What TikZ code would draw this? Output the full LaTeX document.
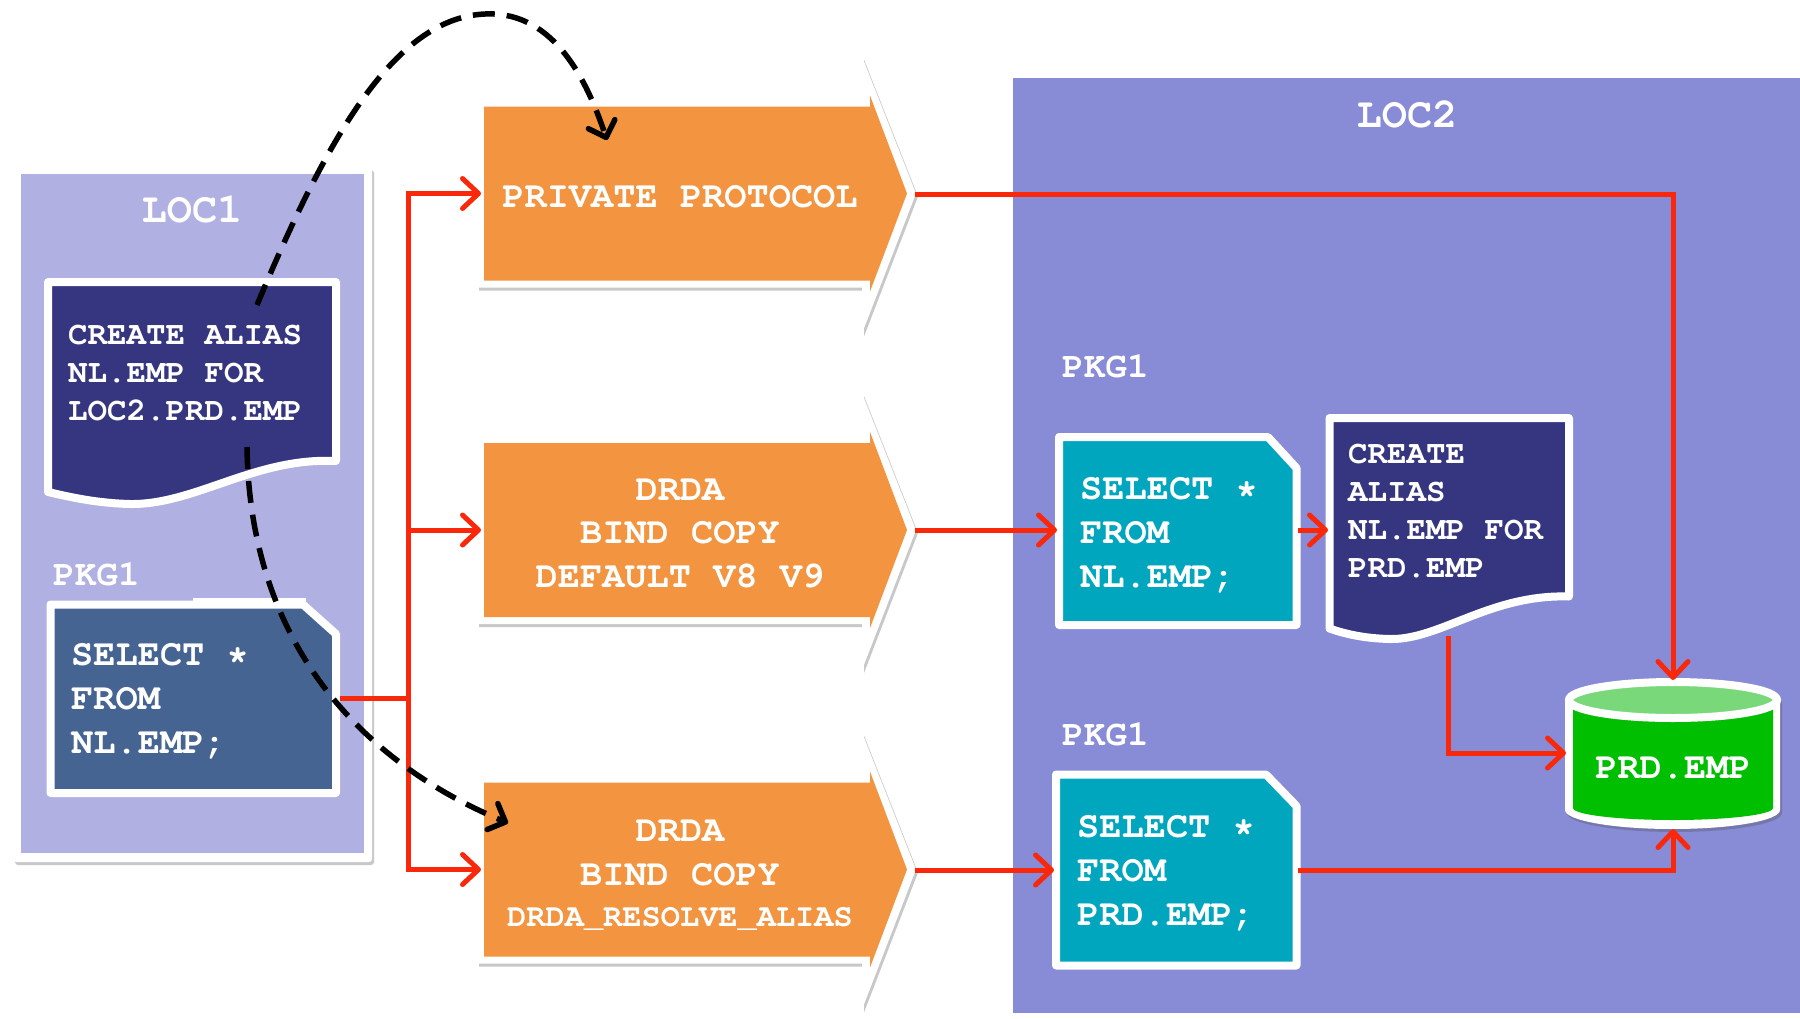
\documentclass[tikz,border=0pt]{standalone}
\usepackage[T1]{fontenc}
\usepackage{courier}
\usetikzlibrary{arrows.meta,shadows,calc}
\definecolor{lavA}{RGB}{176,176,226}
\definecolor{lavB}{RGB}{136,139,214}
\definecolor{navy}{RGB}{54,54,128}
\definecolor{slate}{RGB}{70,100,146}
\definecolor{cyanbox}{RGB}{0,165,190}
\definecolor{orng}{RGB}{242,148,64}
\definecolor{grn}{RGB}{0,190,0}
\definecolor{lgrn}{RGB}{120,216,122}
\definecolor{redl}{RGB}{250,40,10}
\newcommand\myfs[2]{\fontsize{#1}{#2}\selectfont}
\begin{document}
\begin{tikzpicture}[x=1pt,y=-1pt,
  shd/.style={drop shadow={opacity=0.3,shadow xshift=2pt,shadow yshift=-3pt,fill=black!70}},
  frame/.style={draw=white,line width=8pt,line join=round},
  wtxt/.style={text=white,inner sep=0pt},
  titlelbl/.style={wtxt,font=\ttfamily\bfseries\myfs{42}{50}},
  pkglbl/.style={wtxt,font=\ttfamily\bfseries\myfs{36}{44}},
  codeA/.style={wtxt,align=left,font=\ttfamily\bfseries\myfs{37}{44}},
  codeB/.style={wtxt,align=left,font=\ttfamily\bfseries\myfs{32.5}{38}},
  arrtxt/.style={wtxt,align=center,font=\ttfamily\bfseries\myfs{37}{43.5}},
  redarr/.style={draw=redl,line width=5pt,-{Straight Barb[length=16pt,width=30pt,round]}},
  dasharr/.style={draw=black,line width=5.5pt,dash pattern=on 22pt off 12pt,-{Straight Barb[length=14pt,width=28pt,round]}}]
\useasboundingbox (0,0) rectangle (1800,1018);
\fill[white] (0,0) rectangle (1800,1018);

% ---------- LOC1 frame ----------
\fill[white,shd,rounded corners=3pt] (13,167) rectangle (372,862);
\fill[lavA] (21,174) rectangle (364,853);
\node[titlelbl,anchor=base] (loc1) at (192,222) {LOC1};

% ---------- LOC2 frame ----------
\fill[white,shd,rounded corners=3pt] (1005,70) rectangle (1812,1030);
\fill[white] (1000,1013) rectangle (1800,1018);
\fill[lavB] (1013,78) rectangle (1800,1013);
\node[titlelbl,anchor=base] (loc2) at (1407,127) {LOC2};

% ---------- block arrows ----------
\foreach \cy in {193.5,530,869.5}{
  \fill[white,shd] (477,\cy-94) -- (862,\cy-94) -- (862,\cy-137) -- (916,\cy) -- (862,\cy+140) -- (862,\cy+94) -- (477,\cy+94) -- cycle;
  \fill[orng] (484,\cy-87) -- (870,\cy-87) -- (870,\cy-98) -- (907,\cy) -- (870,\cy+98) -- (870,\cy+87) -- (484,\cy+87) -- cycle;
}
\node[arrtxt,anchor=base] (t1) at (680,207) {PRIVATE PROTOCOL};
\node[arrtxt,anchor=base] (t2) at (680,587) {DRDA\\BIND COPY\\DEFAULT V8 V9};
\node[arrtxt,anchor=base] (t3) at (680,885) {DRDA\\BIND COPY};
\node[wtxt,anchor=base,font=\ttfamily\bfseries\myfs{32}{38}] (t3b) at (680,926) {DRDA\_RESOLVE\_ALIAS};

% ---------- LOC1 documents ----------
\filldraw[fill=navy,frame,shd] (48,282) -- (336,282) -- (336,461)
  .. controls (255,457) and (195,505) .. (130,504)
  .. controls (95,503) and (70,497) .. (48,492) -- cycle;
\node[codeB,anchor=base west] (cr1) at (68,420) {CREATE ALIAS\\NL.EMP FOR\\LOC2.PRD.EMP};

\node[pkglbl,anchor=base west] (pk1) at (53,585) {PKG1};
\fill[white] (193,598) rectangle (306,606);
\filldraw[fill=slate,frame,shd] (50.5,604.5) -- (303,604.5) -- (336,634) -- (336,793) -- (50.5,793) -- cycle;
\node[codeA,anchor=base west] (sel1) at (71,753) {SELECT *\\FROM\\NL.EMP;};

% ---------- LOC2 documents ----------
\node[pkglbl,anchor=base west] (pk2) at (1062,377) {PKG1};
\filldraw[fill=cyanbox,frame,shd] (1059,437) -- (1268,437) -- (1296.5,468) -- (1296.5,625) -- (1059,625) -- cycle;
\node[codeA,anchor=base west] (sel2) at (1080,587) {SELECT *\\FROM\\NL.EMP;};

\filldraw[fill=navy,frame,shd] (1329.5,418) -- (1569,418) -- (1569,596.5)
  .. controls (1490,594) and (1440,640) .. (1390,639)
  .. controls (1365,638.5) and (1345,634) .. (1329.5,628.5) -- cycle;
\node[codeB,anchor=base west] (cr2) at (1348,577) {CREATE\\ALIAS\\NL.EMP FOR\\PRD.EMP};

\node[pkglbl,anchor=base west] (pk3) at (1062,745) {PKG1};
\filldraw[fill=cyanbox,frame,shd] (1056,774.5) -- (1266,774.5) -- (1296.5,806) -- (1296.5,965.5) -- (1056,965.5) -- cycle;
\node[codeA,anchor=base west] (sel3) at (1077,925) {SELECT *\\FROM\\PRD.EMP;};

% ---------- cylinder ----------
\fill[white,shd] (1565,700) -- (1565,810) arc[start angle=180,end angle=360,x radius=107.5pt,y radius=19pt]
  -- (1780,700) arc[start angle=0,end angle=180,x radius=107.5pt,y radius=21pt] -- cycle;
\fill[grn] (1573,700) -- (1573,808) arc[start angle=180,end angle=360,x radius=100pt,y radius=12pt] -- (1773,700) -- cycle;
\filldraw[fill=lgrn,draw=white,line width=8pt] (1673,700) ellipse[x radius=104pt,y radius=18pt];
\node[wtxt,anchor=base,font=\ttfamily\bfseries\myfs{37}{44}] (prd) at (1673,778) {PRD.EMP};

% ---------- connector end points ----------
\coordinate (s1o) at (340,698);
\coordinate (a1w) at (481,193.5);
\coordinate (a2w) at (481,530);
\coordinate (a3w) at (481,869.5);
\coordinate (a1e) at (915,194);
\coordinate (a2e) at (915,530);
\coordinate (a3e) at (915,870);
\coordinate (b1w) at (1057,530);
\coordinate (b1e) at (1298,530);
\coordinate (cr2w) at (1328,530);
\coordinate (cr2s) at (1448,636);
\coordinate (b2w) at (1054,870);
\coordinate (b2e) at (1298,870);
\coordinate (cyltop) at (1673,680);
\coordinate (cylw) at (1566,753);
\coordinate (cylbot) at (1673,829);
\coordinate (d1s) at (257,305);
\coordinate (d1e) at (607,140);
\coordinate (d2s) at (247,447);
\coordinate (d2e) at (508,823);

% ---------- red connectors ----------
\draw[redarr] (s1o) -- ++(68,0) |- (a1w);
\draw[redarr] (s1o) -- ++(68,0) |- (a2w);
\draw[redarr] (s1o) -- ++(68,0) |- (a3w);
\draw[redarr] (a1e) -| (cyltop);
\draw[redarr] (a2e) -- (b1w);
\draw[redarr] (b1e) -- (cr2w);
\draw[redarr] (cr2s) |- (cylw);
\draw[redarr] (a3e) -- (b2w);
\draw[redarr] (b2e) -| (cylbot);

% ---------- dashed connectors ----------
\draw[dasharr] (d1s) .. controls (330,130) and (400,10) .. (494,14) .. controls (560,17) and (590,90) .. (d1e);
\draw[dasharr] (d2s) .. controls (250,660) and (380,770) .. (d2e);
\end{tikzpicture}
\end{document}
